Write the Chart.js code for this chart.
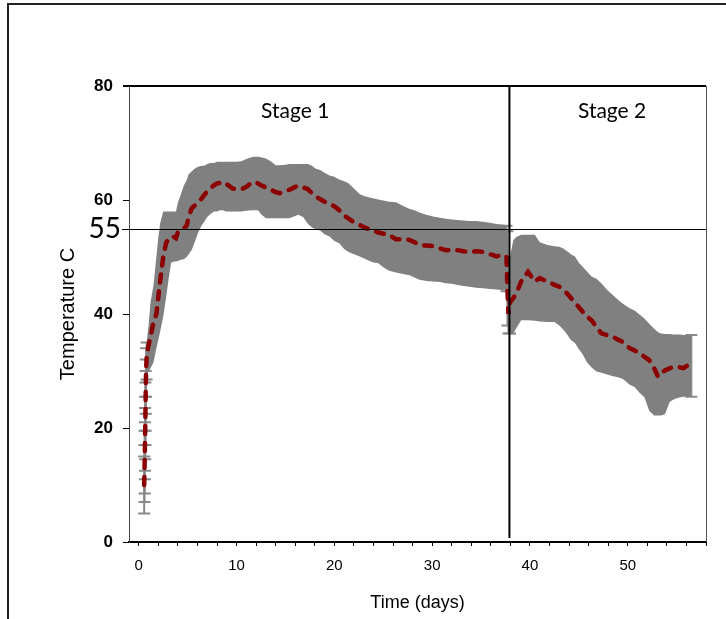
<!DOCTYPE html>
<html lang="en">
<head>
    <meta charset="UTF-8"/>
    <script src="https://cdn.jsdelivr.net/npm/chart.js@4.4.1/dist/chart.umd.min.js"></script>
    <title>Temperature</title>
    <style>
        body { margin: 0; background: #fff; }
    </style>
</head>
<body>
<canvas id="tempChart" width="726" height="619"></canvas>
<script>
    // time in days
    const days = [0.55, 0.58, 0.6, 0.62, 0.64, 0.66, 0.68, 0.7, 0.72, 0.75, 0.8,
        1.0, 1.2, 1.5, 1.8, 2.0, 2.2, 2.5, 2.8, 3.0, 3.3, 3.6, 3.8, 4.0, 4.3, 4.6, 4.9,
        5.1, 5.4, 5.7, 6.0, 6.4, 6.7, 7.0, 7.3, 7.7, 8.0, 8.3, 8.6, 8.9, 9.3, 9.6,
        10.0, 10.5, 11.0, 11.5, 11.8, 12.2, 12.5, 13.0, 13.5, 14.0, 14.4, 15.0, 15.4,
        16.0, 16.3, 16.8, 17.3, 17.7, 18.1, 18.5, 19.0, 19.5, 20.0, 20.5, 21.0, 21.4,
        22.0, 22.6, 23.2, 23.9, 24.5, 25.0, 25.6, 26.3, 27.0, 27.7, 28.2, 28.7, 29.4,
        30.1, 30.8, 31.4, 32.0, 32.6, 33.2, 33.8, 34.5, 35.2, 35.9, 36.6, 37.1, 37.5,
        37.6, 37.7, 37.8, 37.95, 38.3, 38.6, 39.1, 39.8, 40.5, 41.0, 41.8, 42.5, 43.0,
        43.4, 43.8, 44.2, 44.6, 45.0, 45.4, 45.8, 46.3, 46.8, 47.3, 47.9, 48.5, 49.0,
        49.5, 50.2, 50.7, 51.2, 51.7, 52.2, 52.7, 53.1, 53.4, 53.8, 54.3, 54.7, 55.0,
        55.4, 55.7, 56.2, 56.5];
    // mean temperature (C)
    const meanTemp = [10, 12, 14, 16, 18, 20, 22.5, 25, 27.5, 30, 32.5,
        34.5, 36, 38.5, 40, 43, 46, 50, 52.5, 53, 53.6, 53.5, 53.3, 54.4, 54.8, 55, 55.5,
        57, 58.5, 59, 59.5, 60.2, 60.9, 61.5, 62, 62.6, 62.9, 63, 62.7, 62.9, 62.4, 62,
        61.9, 61.9, 62.3, 63, 63.2, 62.9, 62.6, 62.2, 61.8, 61.4, 61.2, 61.5, 61.8,
        62.3, 62.5, 62.2, 61.9, 61.2, 60.6, 60.2, 59.7, 59.3, 58.9, 58.2, 57.3, 56.8,
        56.1, 55.6, 55.1, 54.7, 54.3, 54.1, 53.9, 53.1, 53.1, 53, 52.6, 52.1, 52,
        51.9, 51.5, 51.2, 51.3, 51.2, 51, 50.9, 51, 50.9, 50.5, 50.1, 50.4, 50,
        50, 44, 40, 42, 42.8, 43.6, 45.7, 47.4, 45.7, 46.3, 45.7, 45.1, 44.8,
        44.2, 43.6, 42.8, 42, 41.2, 40.4, 39.6, 38.9, 37.7, 36.6, 36.3, 36, 35.5,
        35.1, 34, 33.6, 33.1, 32.5, 31.9, 30.5, 29, 29.6, 30.1, 30.5, 30.7, 30.8,
        30.6, 30.5, 31.1, 30.8];
    // upper end of error bar
    const upperTemp = [15, 17, 19.5, 21, 23.5, 25.5, 28, 30, 32, 34, 35,
        38, 42, 45, 50, 53.5, 56, 58, 58, 58, 58, 58, 58, 59.5, 61, 62.5, 63.5,
        64.5, 65, 65.5, 65.8, 66, 66, 66.3, 66.5, 66.5, 66.7, 66.7, 66.7, 66.7, 66.7, 66.7,
        66.7, 66.8, 67.2, 67.5, 67.6, 67.6, 67.5, 67.3, 66.8, 66.1, 66.1, 66.2, 66.3,
        66.3, 66.3, 66.3, 66.3, 66, 65.5, 65.3, 64.8, 64.3, 64.1, 63.6, 63.3, 63,
        62, 61, 60.6, 60.3, 60.1, 59.9, 59.7, 59.6, 59, 58.4, 58.2, 57.8, 57.4,
        57.1, 56.9, 56.7, 56.6, 56.5, 56.4, 56.3, 56.3, 56.2, 56, 55.8, 55.7, 55.6,
        55.5, 54.5, 47, 50, 53, 53.5, 53.9, 53.9, 53.9, 52.6, 52.1, 51.9, 51.8,
        51.5, 51, 50.5, 50.1, 49, 48.3, 47.5, 46.6, 46.2, 45.4, 44.2, 43.3, 42.5,
        41.8, 41, 40.6, 39.9, 39.2, 38.3, 37.4, 36.8, 36.6, 36.5, 36.5, 36.4, 36.4,
        36.4, 36.3, 36.3, 36.3];
    // lower end of error bar
    const lowerTemp = [5, 7, 8.5, 11, 12.5, 14.5, 17, 19.5, 22.5, 25.5, 28.5,
        30, 30.5, 31.5, 34, 35.5, 37, 39.5, 43, 45.5, 49, 49.2, 49.2, 49.3, 49.5, 49.6, 50,
        50.5, 51.2, 52.5, 54, 55.5, 56.2, 57, 57.5, 58, 58, 58.2, 58.2, 58, 58, 58,
        58, 58, 58.1, 58.2, 58.2, 58.2, 57.5, 56.8, 56.8, 56.8, 56.8, 56.8, 56.8,
        57.2, 57.4, 57, 55.8, 55.2, 54.8, 54.7, 54, 53.6, 52.8, 52.4, 51.4, 50.9,
        50.5, 50.1, 49.6, 49.1, 48.9, 48.2, 47.6, 47.3, 47, 46.8, 46.4, 46, 45.8,
        45.7, 45.6, 45.4, 45.3, 45.1, 44.9, 44.8, 44.6, 44.5, 44.4, 44.3, 44.2, 44.2,
        44, 38, 36.6, 36.6, 36.6, 37.5, 38.9, 38.9, 38.8, 38.7, 38.6, 38.6, 38,
        37.3, 36.4, 35.4, 34.9, 33.8, 32.9, 31.6, 30.6, 29.9, 29.7, 29.4, 29.1, 28.9,
        28.6, 27.6, 27.2, 26.2, 25.4, 23, 22.2, 22.2, 22.2, 22.4, 24.6, 25, 25.2,
        25.4, 25.5, 25.5, 25.5];

    const yTicks = [0, 20, 40, 60, 80];
    const threshold = 55;
    const stageSplit = 37.9;
    const stageNames = ['Stage 1', 'Stage 2'];
    const stageLabelDays = [16, 48.4];

    const toPoints = (ys) => days.map((d, i) => ({x: d, y: ys[i]}));

    // error bars with caps: only where they show outside the band
    const capped = (d, i) => d < 1 || (d > 37.5 && d < 38) || i === days.length - 1;

    const errorBars = {
        id: 'errorBars',
        beforeDatasetsDraw(chart) {
            const {ctx, scales: {x, y}} = chart;
            ctx.save();
            ctx.strokeStyle = '#8a8a8a';
            ctx.lineWidth = 2;
            days.forEach((d, i) => {
                if (!capped(d, i)) return;
                const px = x.getPixelForValue(d);
                const hi = y.getPixelForValue(upperTemp[i]);
                const lo = y.getPixelForValue(lowerTemp[i]);
                ctx.beginPath();
                ctx.moveTo(px, hi);
                ctx.lineTo(px, lo);
                ctx.moveTo(px - 6, hi);
                ctx.lineTo(px + 6, hi);
                ctx.moveTo(px - 6, lo);
                ctx.lineTo(px + 6, lo);
                ctx.stroke();
            });
            ctx.restore();
        }
    };

    // frame, reference lines and labels
    const extras = {
        id: 'extras',
        beforeDraw(chart) {
            const {ctx} = chart;
            ctx.save();
            ctx.strokeStyle = '#222';
            ctx.lineWidth = 2;
            ctx.strokeRect(8, 4, 800, 700);
            ctx.restore();
        },
        afterDraw(chart) {
            const {ctx, chartArea: a, scales: {x, y}} = chart;
            ctx.save();
            // top and right border of the plot
            ctx.strokeStyle = '#000';
            ctx.lineWidth = 2;
            ctx.beginPath();
            ctx.moveTo(a.left - 6, a.top);
            ctx.lineTo(a.right, a.top);
            ctx.stroke();
            ctx.strokeStyle = '#555';
            ctx.lineWidth = 1;
            ctx.beginPath();
            ctx.moveTo(a.right + 0.5, a.top);
            ctx.lineTo(a.right + 0.5, a.bottom);
            ctx.stroke();
            // 55 line
            const y55 = Math.round(y.getPixelForValue(threshold)) + 0.5;
            ctx.strokeStyle = '#000';
            ctx.beginPath();
            ctx.moveTo(a.left - 7, y55);
            ctx.lineTo(a.right, y55);
            ctx.stroke();
            // stage split
            const xs = x.getPixelForValue(stageSplit);
            ctx.lineWidth = 2;
            ctx.beginPath();
            ctx.moveTo(xs, a.top);
            ctx.lineTo(xs, a.bottom - 4);
            ctx.stroke();
            // texts
            ctx.fillStyle = '#000';
            ctx.textBaseline = 'middle';
            ctx.textAlign = 'right';
            ctx.font = '28px Lato';
            ctx.fillText(String(threshold), a.left - 8, y.getPixelForValue(threshold));
            ctx.textAlign = 'center';
            ctx.font = '21px Lato';
            stageNames.forEach((s, i) => {
                ctx.fillText(s, x.getPixelForValue(stageLabelDays[i]), a.top + 25);
            });
            ctx.restore();
        }
    };

    new Chart(document.getElementById('tempChart'), {
        type: 'line',
        data: {
            datasets: [{
                label: 'Mean',
                data: toPoints(meanTemp),
                borderColor: '#8B0000',
                borderWidth: 4.5,
                borderDash: [8, 9],
                borderCapStyle: 'round',
                pointRadius: 0,
                fill: false,
                tension: 0
            }, {
                label: 'Upper',
                data: toPoints(upperTemp),
                borderWidth: 0,
                pointRadius: 0,
                fill: false
            }, {
                label: 'Lower',
                data: toPoints(lowerTemp),
                borderWidth: 0,
                pointRadius: 0,
                backgroundColor: '#808080',
                fill: '-1'
            }]
        },
        options: {
            responsive: false,
            animation: false,
            devicePixelRatio: 1,
            layout: {padding: {left: 0, top: 86, right: 20, bottom: 0}},
            plugins: {legend: {display: false}, tooltip: {enabled: false}},
            scales: {
                x: {
                    type: 'linear',
                    min: -1,
                    max: 58,
                    afterFit: (s) => { s.height = 77; },
                    grid: {drawOnChartArea: false, tickLength: 4, color: '#000'},
                    border: {color: '#000', width: 2},
                    ticks: {
                        stepSize: 2,
                        includeBounds: false,
                        autoSkip: false,
                        maxRotation: 0,
                        padding: 11,
                        color: '#000',
                        font: {family: 'Liberation Sans', size: 15},
                        callback: (v) => (v % 10 === 0 ? String(v) : '')
                    },
                    title: {
                        display: true,
                        text: 'Time (days)',
                        color: '#000',
                        font: {family: 'Liberation Sans', size: 18},
                        padding: {top: 0, bottom: 5}
                    }
                },
                y: {
                    min: 0,
                    max: 80,
                    afterFit: (s) => { s.width = 129; },
                    afterBuildTicks: (s) => { s.ticks = yTicks.map((v) => ({value: v})); },
                    grid: {drawOnChartArea: false, tickLength: 6, color: '#000'},
                    border: {color: '#444', width: 1},
                    ticks: {
                        padding: 10,
                        color: '#000',
                        font: {family: 'Liberation Sans', size: 17, weight: 'bold'}
                    },
                    title: {
                        display: true,
                        text: 'Temperature C',
                        color: '#000',
                        font: {family: 'Liberation Sans', size: 20},
                        padding: {top: 56, bottom: 0}
                    }
                }
            }
        },
        plugins: [errorBars, extras]
    });
</script>
</body>
</html>
